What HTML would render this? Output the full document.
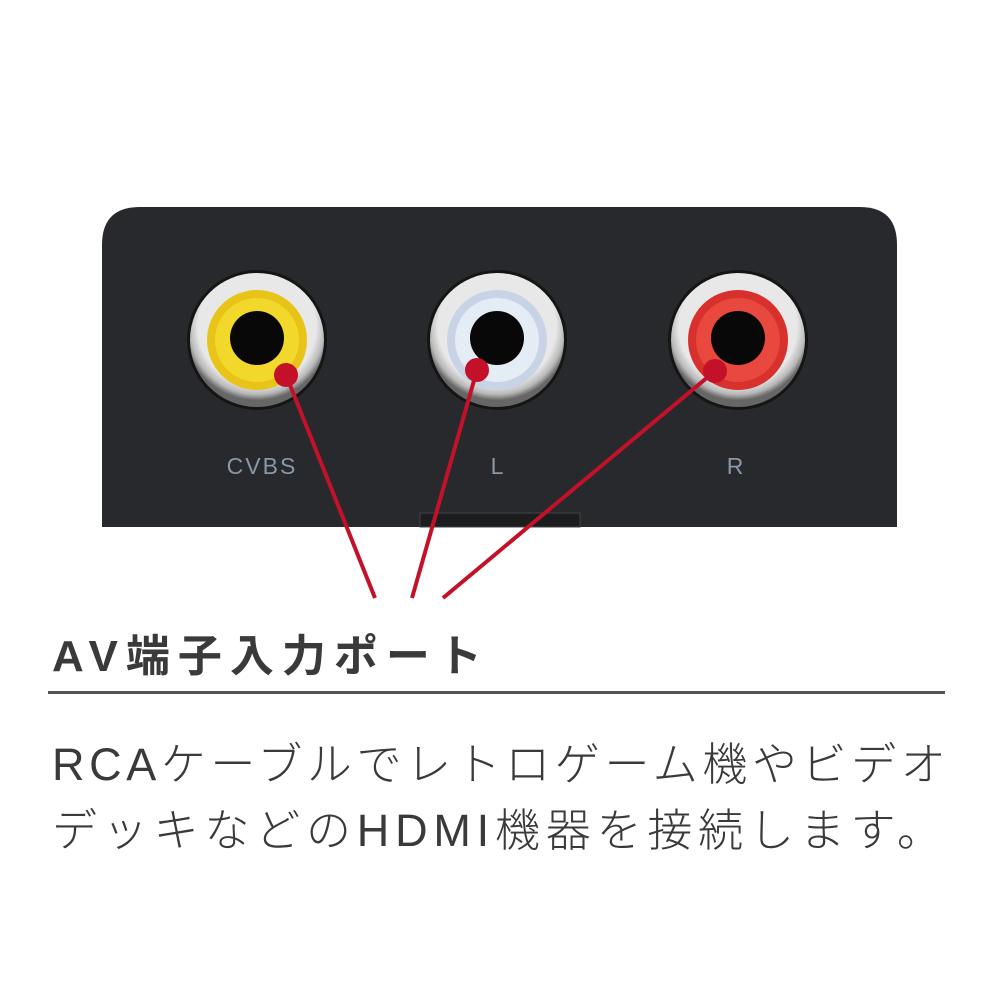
<!DOCTYPE html>
<html><head><meta charset="utf-8"><style>
html,body{margin:0;padding:0;background:#fff;}
body{width:1000px;height:1000px;position:relative;overflow:hidden;font-family:"Liberation Sans","Noto Sans CJK JP",sans-serif;}
.t{position:absolute;color:#3a3a3a;white-space:nowrap;}
</style></head><body>
<svg width="1000" height="1000" style="position:absolute;left:0;top:0">
<defs>
<radialGradient id="sil" cx="50%" cy="40%" r="55%"><stop offset="0.8" stop-color="#e8e8e8"/><stop offset="0.92" stop-color="#b8b8b8"/><stop offset="1" stop-color="#666"/></radialGradient>
</defs>
<path d="M140 207 L860 207 Q897 207 897 245 L897 527 L102 527 L102 245 Q102 207 140 207 Z" fill="#27292c"/>
<rect x="420" y="513" width="160" height="14" fill="#1c1d1f" stroke="#444" stroke-width="1"/>
<g>
<circle cx="257" cy="340" r="70" fill="#151515"/>
<circle cx="257" cy="340" r="67" fill="url(#sil)"/>
<circle cx="257" cy="340" r="50" fill="#e8c419"/>
<circle cx="257" cy="340" r="42" fill="#f2d82a"/>
<circle cx="257" cy="338" r="27" fill="#080808"/>
</g>
<g>
<circle cx="497" cy="340" r="70" fill="#151515"/>
<circle cx="497" cy="340" r="67" fill="url(#sil)"/>
<circle cx="497" cy="340" r="50" fill="#c8d4e6"/>
<circle cx="497" cy="340" r="42" fill="#e4ecf6"/>
<circle cx="497" cy="338" r="27" fill="#080808"/>
</g>
<g>
<circle cx="738" cy="340" r="70" fill="#151515"/>
<circle cx="738" cy="340" r="67" fill="url(#sil)"/>
<circle cx="738" cy="340" r="50" fill="#d8302c"/>
<circle cx="738" cy="340" r="42" fill="#e8483e"/>
<circle cx="738" cy="338" r="27" fill="#080808"/>
</g>
<text x="262" y="474" font-size="23" fill="#8a97a6" text-anchor="middle" font-family="Liberation Sans" letter-spacing="2">CVBS</text>
<text x="497" y="474" font-size="23" fill="#8a97a6" text-anchor="middle" font-family="Liberation Sans">L</text>
<text x="735" y="474" font-size="23" fill="#8a97a6" text-anchor="middle" font-family="Liberation Sans">R</text>
<g stroke="#c4112a" stroke-width="4" fill="#c4112a">
<line x1="286" y1="375" x2="375" y2="598"/>
<line x1="477" y1="370" x2="412" y2="598"/>
<line x1="715" y1="371" x2="443" y2="598"/>
</g>
<g fill="#c4112a">
<circle cx="286" cy="375" r="12"/><circle cx="477" cy="370" r="12"/><circle cx="715" cy="371" r="12"/>
</g>
<rect x="48" y="691" width="897" height="3" fill="#555"/>
</svg>
<div class="t" style="left:52px;top:620px;font-size:44px;font-weight:bold;letter-spacing:8px">AV端子入力ポート</div>
<div class="t" style="left:52px;top:728px;font-size:45px;font-weight:300;letter-spacing:4.6px">RCAケーブルでレトロゲーム機やビデオ</div>
<div class="t" style="left:52px;top:794px;font-size:45px;font-weight:300;letter-spacing:5.8px">デッキなどのHDMI機器を接続します。</div>
</body></html>
